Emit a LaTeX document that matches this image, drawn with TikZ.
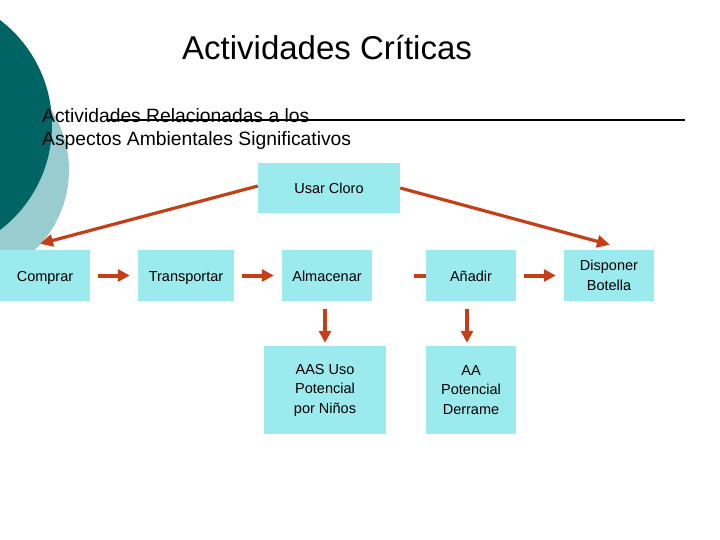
\documentclass[tikz,border=0pt]{standalone}
\usepackage{fontspec}
\setmainfont{Liberation Sans}
\usetikzlibrary{arrows.meta}
\definecolor{boxcyan}{RGB}{155,234,238}
\definecolor{darkteal}{RGB}{0,100,100}
\definecolor{lightteal}{RGB}{152,204,206}
\definecolor{arrred}{RGB}{198,62,22}
\tikzset{
  actbox/.style={fill=boxcyan, draw=none, inner sep=0pt, align=center,
    font=\fontsize{14.5}{19.5}\selectfont, minimum height=51pt, minimum width=90pt},
  oneline/.style={text height=11pt, text depth=0pt},
  arr/.style={draw=arrred, line width=4pt, -{Triangle[length=12pt,width=12pt]}},
  thinarr/.style={draw=arrred, line width=3.2pt, -{Triangle[length=13pt,width=12pt]}}
}
\begin{document}
\begin{tikzpicture}[x=1pt,y=-1pt]
\useasboundingbox (0,0) rectangle (720,540);
% decorative circles
\begin{scope}
\clip (0,0) rectangle (720,540);
\fill[lightteal] (-42,170) circle (111);
\fill[darkteal] (-80,125) circle (132);
\end{scope}
% title
\node[anchor=base west, inner sep=0pt, font=\fontsize{33}{36}\selectfont] (title) at (182,60) {Actividades Críticas};
\node[anchor=base west, inner sep=0pt, font=\fontsize{19.3}{23}\selectfont] (sub1) at (42,123) {Actividades Relacionadas a los};
\node[anchor=base west, inner sep=0pt, font=\fontsize{19.3}{23}\selectfont] (sub2) at (42,146) {Aspectos Ambientales Significativos};
\coordinate (ls) at (107,120);
\coordinate (le) at (685,120);
\draw[line width=2pt] (ls) -- (le);
% stub under Añadir
\coordinate (stub) at (414,276);
\coordinate (stubend) at (430,276);
\draw[draw=arrred, line width=4pt] (stub) -- (stubend);
% boxes
\node[actbox, oneline, minimum width=142pt, minimum height=50pt] (cloro) at (329,188) {Usar Cloro};
\node[actbox, oneline] (comprar) at (45,275.5) {Comprar};
\node[actbox, oneline, minimum width=96pt] (transp) at (186,275.5) {Transportar};
\node[actbox, oneline] (alm) at (327,275.5) {Almacenar};
\node[actbox, oneline] (anadir) at (471,275.5) {Añadir};
\node[actbox] (disp) at (609,275.5) {Disponer\\Botella};
\node[actbox, minimum width=122pt, minimum height=88pt] (aas) at (325,390) {AAS Uso\\Potencial\\por Niños};
\node[actbox, minimum height=88pt] (aa) at (471,390) {AA\\Potencial\\Derrame};
% arrows
\draw[arr, shorten <=8pt, shorten >=8pt] (comprar.east) -- (transp.west);
\draw[arr, shorten <=8pt, shorten >=8pt] (transp.east) -- (alm.west);
\draw[arr, shorten <=8pt, shorten >=8pt] (anadir.east) -- (disp.west);
\draw[arr, shorten <=8pt, shorten >=3pt] (aas.north |- alm.south) -- (aas.north);
\draw[arr, shorten <=8pt, shorten >=3pt] ([xshift=-4pt]aa.north |- anadir.south) -- ([xshift=-4pt]aa.north);
\draw[thinarr] ([yshift=2pt]cloro.west) -- ([shift={(-5,-6)}]comprar.north);
\draw[thinarr] (cloro.east) -- ([shift={(1,-5)}]disp.north);
\end{tikzpicture}
\end{document}
